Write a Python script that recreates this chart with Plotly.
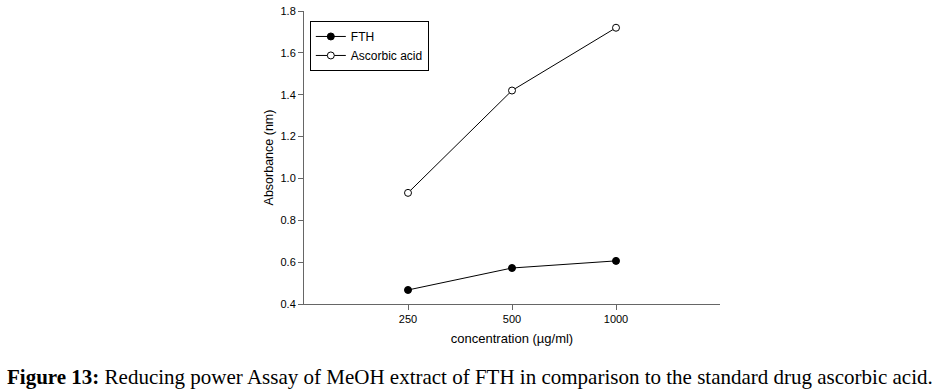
import plotly.graph_objects as go

categories = ["250", "500", "1000"]
fth = [0.467, 0.572, 0.606]
ascorbic = [0.931, 1.42, 1.72]
y_ticks = [0.4, 0.6, 0.8, 1.0, 1.2, 1.4, 1.6, 1.8]

fig = go.Figure()
fig.add_trace(go.Scatter(
    x=categories, y=fth, mode="lines+markers", name="FTH",
    line=dict(color="black", width=1),
    marker=dict(symbol="circle", size=7, color="black", line=dict(color="black", width=1)),
))
fig.add_trace(go.Scatter(
    x=categories, y=ascorbic, mode="lines+markers", name="Ascorbic acid",
    line=dict(color="black", width=1),
    marker=dict(symbol="circle", size=7, color="white", line=dict(color="black", width=1)),
))

fig.update_layout(
    width=941, height=391,
    margin=dict(l=304, r=221, t=11, b=87),
    paper_bgcolor="white", plot_bgcolor="white",
    font=dict(family="Liberation Sans, Arial, sans-serif", size=11, color="black"),
    showlegend=True,
    legend=dict(
        x=0.014, y=0.966, xanchor="left", yanchor="top",
        bordercolor="black", borderwidth=1, bgcolor="white",
        font=dict(size=12), tracegroupgap=0, itemwidth=30,
    ),
    xaxis=dict(
        type="category", range=[-1, 3], automargin=False,
        showline=True, linecolor="#666", linewidth=1,
        ticks="outside", ticklen=5, tickcolor="#666",
        showgrid=False, zeroline=False,
        title=dict(text="concentration (µg/ml)", font=dict(size=13), standoff=9),
    ),
    yaxis=dict(
        range=[0.4, 1.8], tickvals=y_ticks, tickformat=".1f", automargin=False,
        showline=True, linecolor="#666", linewidth=1,
        ticks="outside", ticklen=5, tickcolor="#666",
        showgrid=False, zeroline=False,
        title=dict(text="Absorbance (nm)", font=dict(size=12.5), standoff=4),
    ),
    annotations=[dict(
        text="<b>Figure 13:</b> Reducing power Assay of MeOH extract of FTH in comparison to the standard drug ascorbic acid.",
        xref="paper", yref="paper", x=0.40, y=-0.249, xanchor="center", yanchor="middle",
        showarrow=False, font=dict(family="Liberation Serif, Times New Roman, serif", size=21, color="black"),
    )],
)

fig.write_html(
    "out.html",
    config={"displayModeBar": False},
    post_script="document.body.style.margin='0px'; document.body.style.overflow='hidden';",
)
